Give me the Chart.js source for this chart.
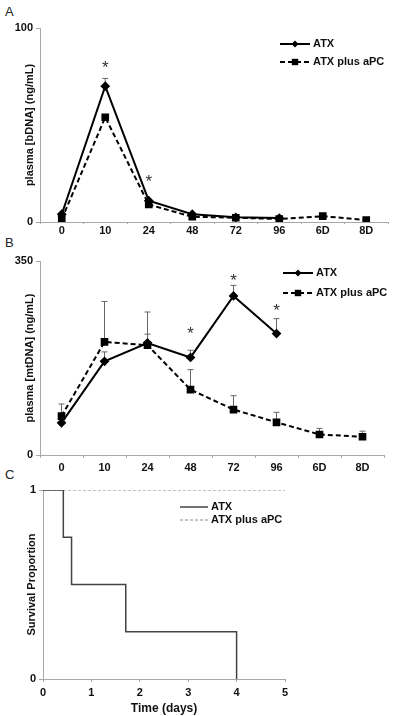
<!DOCTYPE html>
<html>
<head>
<meta charset="utf-8">
<script src="https://cdn.jsdelivr.net/npm/chart.js@4/dist/chart.umd.min.js"></script>
<style>
  body { margin: 0; background: #fff; width: 400px; height: 716px; position: relative; overflow: hidden;
         font-family: "Liberation Sans", Arial, sans-serif; }
  canvas { position: absolute; left: 0; }
  .tag { position: absolute; left: 5px; font-size: 13px; color: #222; line-height: 1; }
</style>
</head>
<body>
<div class="tag" style="top:5px">A</div>
<div class="tag" style="top:236px">B</div>
<div class="tag" style="top:468px">C</div>
<canvas id="chartA" width="400" height="240" style="top:0"></canvas>
<canvas id="chartB" width="400" height="236" style="top:240px"></canvas>
<canvas id="chartC" width="400" height="240" style="top:476px"></canvas>
<script>
const timeLabels = ["0", "10", "24", "48", "72", "96", "6D", "8D"];

// A: plasma bDNA (ng/mL)
const bdnaATX    = [4, 70, 11, 4, 2.4, 2, null, null];
const bdnaATXErr = [0, 4, 0, 0, 0, 0, null, null];
const bdnaAPC    = [1.5, 54, 9, 2.7, 2.2, 1.5, 3, 1];
const bdnaAPCErr = [0, 1, 0, 0, 0, 0, 0, 0];
const bdnaStars  = [null, 81, 22, null, null, null, null, null];

// B: plasma mtDNA (ng/mL)
const mtdnaATX    = [58, 169, 202, 176, 287, 219, null, null];
const mtdnaATXErr = [0, 17, 16, 13, 19, 27, null, null];
const mtdnaAPC    = [70, 204, 198, 118, 82, 59, 37, 33];
const mtdnaAPCErr = [22, 73, 60, 36, 25, 18, 11, 10];
const mtdnaStars  = [null, null, null, 224, 319, 264, null, null];

// C: survival
const survDaysATX = [0, 0.42, 0.59, 1.71, 4];
const survATX     = [1, 0.75, 0.5, 0.25, 0];
const survDaysAPC = [0, 5];
const survAPC     = [1, 1];

const FONT = '"Liberation Sans", Arial, sans-serif';
const AXIS_GREY = '#a8a8a8';

// error bars (upward only), drawn under the markers
const errorBars = {
  id: 'errorBars',
  beforeDatasetsDraw(chart) {
    const ctx = chart.ctx, y = chart.scales.y;
    ctx.save();
    ctx.strokeStyle = '#666';
    ctx.lineWidth = 1;
    chart.data.datasets.forEach((ds, i) => {
      if (!ds.errors) return;
      chart.getDatasetMeta(i).data.forEach((pt, j) => {
        const e = ds.errors[j];
        if (!e || ds.data[j] == null) return;
        const top = y.getPixelForValue(ds.data[j] + e);
        ctx.beginPath();
        ctx.moveTo(pt.x, pt.y);
        ctx.lineTo(pt.x, top);
        ctx.moveTo(pt.x - 3, top);
        ctx.lineTo(pt.x + 3, top);
        ctx.stroke();
      });
    });
    ctx.restore();
  }
};

// significance asterisks
const stars = {
  id: 'stars',
  afterDatasetsDraw(chart, args, opts) {
    if (!opts.values) return;
    const ctx = chart.ctx;
    ctx.save();
    ctx.fillStyle = '#333';
    ctx.font = '17px ' + FONT;
    ctx.textAlign = 'center';
    ctx.textBaseline = 'middle';
    opts.values.forEach((v, j) => {
      if (v == null) return;
      ctx.fillText('*', chart.scales.x.getPixelForValue(j), chart.scales.y.getPixelForValue(v) + 3);
    });
    ctx.restore();
  }
};

function drawMarker(ctx, style, x, y, r) {
  ctx.beginPath();
  if (style === 'rectRot') {
    ctx.moveTo(x, y - r); ctx.lineTo(x + r, y); ctx.lineTo(x, y + r); ctx.lineTo(x - r, y);
  } else if (style === 'rect') {
    ctx.rect(x - r * 0.8, y - r * 0.8, r * 1.6, r * 1.6);
  }
  ctx.closePath();
  ctx.fill();
}

// legend drawn inside the plot
const boxLegend = {
  id: 'boxLegend',
  afterDraw(chart, args, opts) {
    if (!opts.x) return;
    const ctx = chart.ctx;
    ctx.save();
    chart.data.datasets.forEach((ds, i) => {
      const y = opts.y + i * opts.gap;
      ctx.strokeStyle = ds.borderColor;
      ctx.fillStyle = ds.borderColor;
      ctx.lineWidth = ds.borderWidth;
      ctx.setLineDash(ds.borderDash || []);
      ctx.beginPath();
      ctx.moveTo(opts.x, y);
      ctx.lineTo(opts.x + opts.len, y);
      ctx.stroke();
      ctx.setLineDash([]);
      if (ds.pointRadius) drawMarker(ctx, ds.pointStyle, opts.x + opts.len / 2, y, ds.pointRadius);
      ctx.fillStyle = '#111';
      ctx.font = 'bold 11px ' + FONT;
      ctx.textAlign = 'left';
      ctx.textBaseline = 'middle';
      ctx.fillText(ds.label, opts.x + opts.len + 3, y);
    });
    ctx.restore();
  }
};

Chart.register(errorBars, stars, boxLegend);

const tickFont = { family: FONT, size: 11, weight: 'bold' };

function timeChart(id, atx, atxErr, apc, apcErr, starVals, yMax, yTitle, pad, xBox, legendPos) {
  return new Chart(document.getElementById(id), {
    type: 'line',
    data: {
      labels: timeLabels,
      datasets: [{
        label: 'ATX',
        data: atx,
        errors: atxErr,
        borderColor: '#000',
        backgroundColor: '#000',
        borderWidth: 2,
        pointStyle: 'rectRot',
        pointRadius: 3.5,
        spanGaps: false
      }, {
        label: 'ATX plus aPC',
        data: apc,
        errors: apcErr,
        borderColor: '#000',
        backgroundColor: '#000',
        borderWidth: 2,
        borderDash: [5, 3],
        pointStyle: 'rect',
        pointRadius: 4
      }]
    },
    options: {
      responsive: false,
      animation: false,
      devicePixelRatio: 1,
      layout: { padding: pad },
      plugins: {
        legend: { display: false },
        tooltip: { enabled: false },
        stars: { values: starVals },
        boxLegend: legendPos
      },
      scales: {
        x: {
          offset: true,
          grid: { offset: true, drawOnChartArea: false, color: AXIS_GREY, tickLength: xBox.tick },
          border: { color: AXIS_GREY },
          ticks: { color: '#111', font: tickFont, padding: xBox.pad, maxRotation: 0, autoSkip: false },
          afterFit: s => { s.height = xBox.h; }
        },
        y: {
          min: 0,
          max: yMax,
          grid: { drawOnChartArea: false, color: AXIS_GREY, tickLength: 4 },
          border: { color: AXIS_GREY },
          ticks: { stepSize: yMax, color: '#111', font: tickFont, padding: 3 },
          title: { display: true, text: yTitle, color: '#111', font: tickFont, padding: { top: 23, bottom: 0 } },
          afterFit: s => { s.width = 40; }
        }
      }
    }
  });
}

timeChart('chartA', bdnaATX, bdnaATXErr, bdnaAPC, bdnaAPCErr, bdnaStars, 100,
  'plasma [bDNA] (ng/mL)', { top: 28, right: 12, left: 0, bottom: 0 },
  { h: 18, tick: 2, pad: 0 }, { x: 280, y: 44, gap: 18, len: 30 });

timeChart('chartB', mtdnaATX, mtdnaATXErr, mtdnaAPC, mtdnaAPCErr, mtdnaStars, 350,
  'plasma [mtDNA] (ng/mL)', { top: 21, right: 16, left: 0, bottom: 0 },
  { h: 21, tick: 3, pad: 3 }, { x: 283, y: 33, gap: 20, len: 30 });

new Chart(document.getElementById('chartC'), {
  type: 'line',
  data: {
    datasets: [{
      label: 'ATX',
      data: survDaysATX.map((d, i) => ({ x: d, y: survATX[i] })),
      borderColor: '#444',
      borderWidth: 1.5,
      pointRadius: 0,
      stepped: 'before'
    }, {
      label: 'ATX plus aPC',
      data: survDaysAPC.map((d, i) => ({ x: d, y: survAPC[i] })),
      borderColor: '#8a8a8a',
      borderWidth: 1,
      borderDash: [3, 2],
      pointRadius: 0
    }]
  },
  options: {
    responsive: false,
    animation: false,
    devicePixelRatio: 1,
    layout: { padding: { top: 14, right: 115, left: 0, bottom: 0 } },
    plugins: {
      legend: { display: false },
      tooltip: { enabled: false },
      boxLegend: { x: 180, y: 31, gap: 13, len: 28 }
    },
    scales: {
      x: {
        type: 'linear',
        min: 0,
        max: 5,
        grid: { drawOnChartArea: false, color: AXIS_GREY, tickLength: 3 },
        border: { color: AXIS_GREY },
        ticks: { stepSize: 1, color: '#111', font: tickFont, padding: 4 },
        title: { display: true, text: 'Time (days)', color: '#111', font: { family: FONT, size: 12, weight: 'bold' }, padding: { top: 3, bottom: 0 } },
        afterFit: s => { s.height = 37; }
      },
      y: {
        min: 0,
        max: 1,
        grid: { drawOnChartArea: false, color: AXIS_GREY, tickLength: 4 },
        border: { color: AXIS_GREY },
        ticks: { stepSize: 1, color: '#111', font: tickFont, padding: 3 },
        title: { display: true, text: 'Survival Proportion', color: '#111', font: tickFont, padding: { top: 25, bottom: 0 } },
        afterFit: s => { s.width = 43; }
      }
    }
  }
});
</script>
</body>
</html>
